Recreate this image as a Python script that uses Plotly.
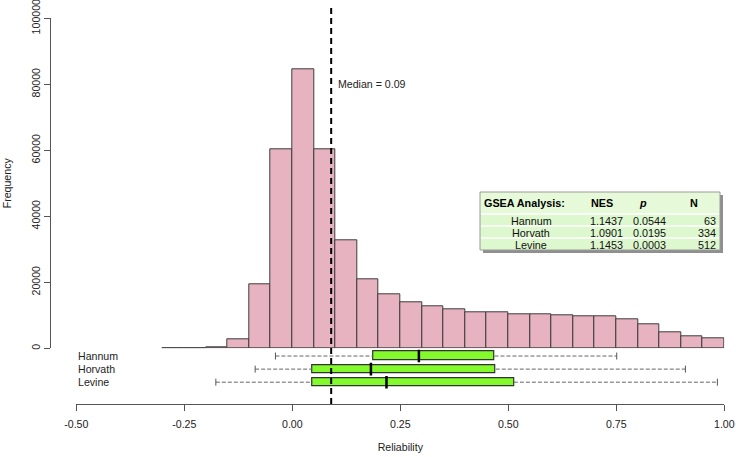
import plotly.graph_objects as go

# ---------------- data ----------------
bin_left = [-0.30, -0.25, -0.20, -0.15, -0.10, -0.05, 0.00, 0.05, 0.10, 0.15,
            0.20, 0.25, 0.30, 0.35, 0.40, 0.45, 0.50, 0.55, 0.60, 0.65,
            0.70, 0.75, 0.80, 0.85, 0.90, 0.95]
bin_width = 0.05
counts = [40, 40, 350, 2800, 19400, 60300, 84400, 60400, 32800, 20900,
          16500, 13900, 12800, 11750, 11050, 10850, 10450, 10350, 10150, 9850,
          9550, 8700, 7200, 5000, 3600, 3000]
median_value = 0.09

box_names = ["Hannum", "Horvath", "Levine"]
box_pos = [3, 2, 1]
box_lower = [-0.039, -0.086, -0.177]
box_q1 = [0.187, 0.046, 0.047]
box_median = [0.293, 0.182, 0.218]
box_q3 = [0.468, 0.471, 0.513]
box_upper = [0.751, 0.910, 0.984]

x_ticks = [-0.50, -0.25, 0.00, 0.25, 0.50, 0.75, 1.00]
y_ticks = [0, 20000, 40000, 60000, 80000, 100000]

table_header = ["GSEA Analysis:", "NES", "<i>p</i>", "N"]
table_names = ["Hannum", "Horvath", "Levine"]
table_nes = ["1.1437", "1.0901", "1.1453"]
table_p = ["0.0544", "0.0195", "0.0003"]
table_n = ["63", "334", "512"]

# ---------------- figure ----------------
FONT = "Liberation Sans, Arial, Helvetica, sans-serif"
W, H = 736, 457
ML, MR, MT, MB = 50, 0, 7, 53
PW, PH = W - ML - MR, H - MT - MB


def px(xp):
    return (xp - ML) / PW


def py(yp):
    return (H - MB - yp) / PH


fig = go.Figure()

centers = [b + bin_width / 2 for b in bin_left]
fig.add_trace(go.Bar(
    x=centers, y=counts, width=bin_width,
    marker=dict(color="#E8B3C1", line=dict(color="#3d3d3d", width=1)),
    cliponaxis=False, showlegend=False, hoverinfo="x+y",
))

# boxes
fig.add_trace(go.Bar(
    y=box_pos, x=[q3 - q1 for q1, q3 in zip(box_q1, box_q3)], base=box_q1,
    orientation="h", width=0.66, yaxis="y2",
    marker=dict(color="#82FA2C", line=dict(color="#333333", width=1.2)),
    showlegend=False, cliponaxis=False,
))
# whiskers
for lo, q1, q3, hi, p in zip(box_lower, box_q1, box_q3, box_upper, box_pos):
    fig.add_trace(go.Scatter(
        x=[lo, q1, None, q3, hi], y=[p, p, None, p, p], yaxis="y2",
        mode="lines", line=dict(color="#666666", width=1, dash="4px,2px"),
        showlegend=False, hoverinfo="skip",
    ))
# caps
fig.add_trace(go.Scatter(
    x=box_lower + box_upper, y=box_pos + box_pos, yaxis="y2", mode="markers",
    marker=dict(symbol="line-ns-open", size=5, color="#555555",
                line=dict(color="#555555", width=1)),
    showlegend=False, hoverinfo="skip",
))
# medians
fig.add_trace(go.Scatter(
    x=box_median, y=box_pos, yaxis="y2", mode="markers",
    marker=dict(symbol="line-ns-open", size=9, color="black",
                line=dict(color="black", width=2.5)),
    showlegend=False, hoverinfo="skip",
))

ydom_bottom = py(348.3)
ydom_top = py(18.3)
px_per_unit = 13.0
y2_top = 3 + (356 - 348.3) / px_per_unit
y2_bot = 1 - (404 - 382.3) / px_per_unit

# ---------- table (shapes + annotations) ----------
T_L, T_R, T_T = 480, 720, 192
HDR_H, ROW_H = 22, 12
T_B = T_T + HDR_H + ROW_H * len(table_names)
shapes = [
    dict(type="line", xref="x", yref="paper", x0=median_value, x1=median_value,
         y0=0, y1=1, line=dict(color="black", width=2, dash="6px,4px"), layer="above"),
    # shadow
    dict(type="rect", xref="paper", yref="paper",
         x0=px(T_L + 3), x1=px(T_R + 3), y0=py(T_B + 3), y1=py(T_T + 3),
         fillcolor="#8f8f8f", line=dict(width=0), layer="above"),
    # header background
    dict(type="rect", xref="paper", yref="paper",
         x0=px(T_L), x1=px(T_R), y0=py(T_T + HDR_H), y1=py(T_T),
         fillcolor="#E6FAD9", line=dict(width=0), layer="above"),
]
for i in range(len(table_names)):
    top = T_T + HDR_H + i * ROW_H
    shapes.append(dict(type="rect", xref="paper", yref="paper",
                       x0=px(T_L), x1=px(T_R), y0=py(top + ROW_H), y1=py(top),
                       fillcolor="#DDF7CE", line=dict(width=0), layer="above"))
for i in range(len(table_names)):
    yline = T_T + HDR_H + i * ROW_H
    shapes.append(dict(type="line", xref="paper", yref="paper",
                       x0=px(T_L + 1), x1=px(T_R - 1), y0=py(yline), y1=py(yline),
                       line=dict(color="white", width=1.5), layer="above"))
shapes.append(dict(type="rect", xref="paper", yref="paper",
                   x0=px(T_L), x1=px(T_R), y0=py(T_B), y1=py(T_T),
                   fillcolor="rgba(0,0,0,0)", line=dict(color="#9a9a9a", width=1),
                   layer="above"))

TFONT = dict(family=FONT, size=10.8, color="#111")
TFONT_B = dict(family=FONT, size=10.8, color="black", weight="bold")
annotations = [
    dict(x=median_value, y=80000, xref="x", yref="y", xanchor="left", yanchor="middle",
         xshift=5, text=f"Median = {median_value:.2f}", showarrow=False,
         font=dict(size=10.6, color="#222")),
]
annotations += [
    dict(x=x_ticks[0], y=p, xref="x", yref="y2", xanchor="left", yanchor="middle",
         text=n, showarrow=False, font=dict(size=10.6, color="#222"))
    for n, p in zip(box_names, box_pos)
]
# header texts
hdr_y = py(T_T + HDR_H / 2 + 0.5)
hdr_x = [(482, "left"), (602, "center"), (643, "center"), (694, "center")]
for txt, (xp, anc) in zip(table_header, hdr_x):
    annotations.append(dict(x=px(xp), y=hdr_y, xref="paper", yref="paper",
                            xanchor=anc, yanchor="middle", text=txt, showarrow=False,
                            font=TFONT_B))
col_x = [(531, "center"), (606, "center"), (649, "center"), (718, "right")]
for i, row in enumerate(zip(table_names, table_nes, table_p, table_n)):
    yc = py(T_T + HDR_H + i * ROW_H + ROW_H / 2 + 0.5)
    for txt, (xp, anc) in zip(row, col_x):
        annotations.append(dict(x=px(xp), y=yc, xref="paper", yref="paper",
                                xanchor=anc, yanchor="middle", text=txt, showarrow=False,
                                font=TFONT))

fig.update_layout(
    width=W, height=H, autosize=False,
    margin=dict(l=ML, r=MR, t=MT, b=MB, pad=0, autoexpand=False),
    paper_bgcolor="white", plot_bgcolor="white",
    font=dict(family=FONT, size=10.6, color="#222"),
    bargap=0, showlegend=False,
    xaxis=dict(
        domain=[px(76.3), px(724.3)],
        range=[-0.5, 1.0], anchor="y2", automargin=False,
        showline=True, linecolor="#555", linewidth=1,
        ticks="outside", ticklen=6, tickcolor="#555",
        tickvals=x_ticks, ticktext=[f"{v:.2f}" for v in x_ticks],
        ticklabelstandoff=4, ticklabeloverflow="allow",
        showgrid=False, zeroline=False,
        title=dict(text="Reliability", standoff=14, font=dict(size=10.6)),
    ),
    yaxis=dict(
        domain=[ydom_bottom, ydom_top], range=[0, 100000],
        anchor="free", position=0, automargin=False,
        showline=True, linecolor="#555", linewidth=1,
        ticks="outside", ticklen=6, tickcolor="#555",
        tickvals=y_ticks, ticktext=[str(v) for v in y_ticks], tickangle=-90,
        ticklabeloverflow="allow",
        showgrid=False, zeroline=False,
        title=dict(text="Frequency", standoff=15, font=dict(size=10.6)),
    ),
    yaxis2=dict(
        domain=[0, ydom_bottom], range=[y2_bot, y2_top], automargin=False,
        anchor="x", visible=False, showgrid=False, zeroline=False,
    ),
    shapes=shapes,
    annotations=annotations,
)

fig.write_html("out.html", config={"displayModeBar": False},
               post_script="document.body.style.margin='0';document.body.style.overflow='hidden';")
